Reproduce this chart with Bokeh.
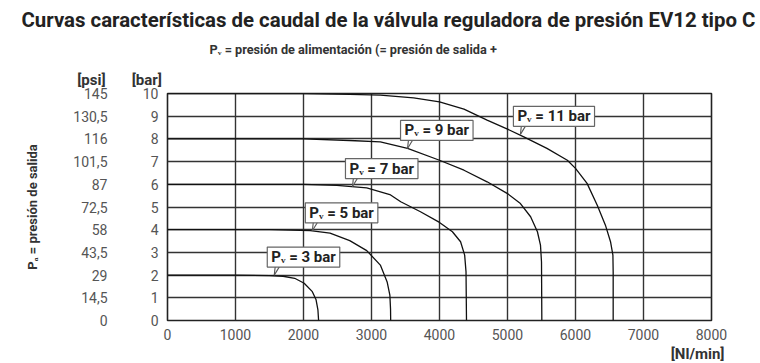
from bokeh.plotting import figure
from bokeh.models import Label, LinearAxis, FixedTicker, Range1d, Title
from bokeh.embed import file_html
from bokeh.resources import INLINE

# ---------------- data ----------------
flow_3 = [0, 1000, 1500, 1700, 1870, 2010, 2130, 2185, 2212, 2222]
p_3 = [2.0, 2.0, 1.98, 1.95, 1.86, 1.64, 1.27, 0.91, 0.47, 0.0]

flow_5 = [0, 1500, 2100, 2390, 2680, 2930, 3130, 3230, 3270, 3280, 3282]
p_5 = [4.0, 4.0, 3.96, 3.85, 3.52, 3.08, 2.44, 1.70, 1.12, 0.5, 0.0]

flow_7 = [0, 2000, 2490, 2930, 3270, 3430, 3720, 4000, 4190, 4310, 4370, 4390, 4397]
p_7 = [6.0, 6.0, 5.95, 5.84, 5.55, 5.23, 4.79, 4.32, 3.91, 3.47, 2.88, 2.14, 0.0]

flow_9 = [0, 2000, 2680, 3130, 3530, 4000, 4360, 4700, 5000, 5190, 5340, 5440, 5485, 5500, 5505]
p_9 = [8.0, 8.0, 7.93, 7.87, 7.58, 7.06, 6.62, 6.11, 5.59, 5.15, 4.57, 3.91, 3.32, 2.58, 0.0]

flow_11 = [0, 2000, 2680, 3130, 3620, 4000, 4360, 4700, 5000, 5240, 5580, 5880, 6000,
           6170, 6320, 6440, 6515, 6550, 6554, 6554]
p_11 = [10.0, 10.0, 9.96, 9.93, 9.81, 9.63, 9.31, 8.83, 8.43, 8.09, 7.58, 7.06, 6.70,
        6.04, 5.08, 4.2, 3.47, 2.88, 2.14, 0.0]

x_ticks = [0, 1000, 2000, 3000, 4000, 5000, 6000, 7000, 8000]
bar_ticks = [0, 1, 2, 3, 4, 5, 6, 7, 8, 9, 10]
psi_labels = ["0", "14,5", "29", "43,5", "58", "72,5", "87", "101,5", "116", "130,5", "145"]

callout_texts = ["P\u1d65 = 3 bar", "P\u1d65 = 5 bar", "P\u1d65 = 7 bar", "P\u1d65 = 9 bar", "P\u1d65 = 11 bar"]
callout_flow = [1570, 2130, 2720, 3530, 5190]
callout_p = [2.0, 3.95, 5.9, 7.58, 8.2]

title_text = "Curvas características de caudal de la válvula reguladora de presión EV12 tipo C"
subtitle_text = "P\u1d65 = presión de alimentación (= presión de salida +"
ylabel_text = "P\u2090 = presión de salida"
xunit_text = "[Nl/min]"
units_text = "[psi]" + "\u00a0" * 7 + "[bar]"

# ---------------- layout ----------------
W, H = 760, 363
BL, BR, BT = 167, 49, 93
FW, FH = W - BL - BR, 227
BB = H - BT - FH
X0, X1, Y0, Y1 = 0, 8000, 0, 10
ux = (X1 - X0) / FW   # data units per pixel
uy = (Y1 - Y0) / FH

FONT = "Roboto"
TICK_COLOR = "#555555"
DARK = "#222222"

p = figure(width=W, height=H, x_range=Range1d(X0, X1), y_range=Range1d(Y0, Y1),
           output_backend="svg", toolbar_location=None,
           min_border_left=BL, min_border_right=BR, min_border_top=BT, min_border_bottom=BB,
           background_fill_color="white", border_fill_color="white")

p.outline_line_color = "#222222"
p.outline_line_width = 1.6

p.xgrid.ticker = FixedTicker(ticks=x_ticks)
p.ygrid.ticker = FixedTicker(ticks=bar_ticks)
for g in (p.xgrid[0], p.ygrid[0]):
    g.grid_line_color = "#333333"
    g.grid_line_width = 1.4
    g.grid_line_alpha = 1.0


def style_axis(ax, standoff):
    ax.major_tick_in = 0
    ax.major_tick_out = 0
    ax.minor_tick_in = 0
    ax.minor_tick_out = 0
    ax.axis_line_color = None
    ax.major_label_standoff = standoff
    ax.major_label_text_font = FONT
    ax.major_label_text_font_size = "14px"
    ax.major_label_text_color = TICK_COLOR


xa = p.xaxis[0]
xa.ticker = FixedTicker(ticks=x_ticks)
style_axis(xa, 8)

ya = p.yaxis[0]
ya.ticker = FixedTicker(ticks=bar_ticks)
style_axis(ya, 9)

psi_axis = LinearAxis(ticker=FixedTicker(ticks=bar_ticks),
                      major_label_overrides=dict(zip(bar_ticks, psi_labels)))
style_axis(psi_axis, 32)
psi_axis.axis_label = ylabel_text
psi_axis.axis_label_text_font = FONT
psi_axis.axis_label_text_font_size = "13px"
psi_axis.axis_label_text_font_style = "bold"
psi_axis.axis_label_text_color = "#333333"
psi_axis.axis_label_standoff = 30
p.add_layout(psi_axis, "left")

# ---------------- curves ----------------
for fl, pr in [(flow_3, p_3), (flow_5, p_5), (flow_7, p_7), (flow_9, p_9), (flow_11, p_11)]:
    p.line(fl, pr, line_color="#111111", line_width=1.3)

# ---------------- callouts ----------------
for t, fx, fy in zip(callout_texts, callout_flow, callout_p):
    p.patch([fx, fx + 1 * ux, fx + 5.5 * ux], [fy, fy + 9 * uy, fy + 9 * uy],
            fill_color="white", line_color=None)
    p.segment([fx, fx], [fy, fy], [fx + 1 * ux, fx + 5.5 * ux], [fy + 9 * uy, fy + 9 * uy],
              line_color="#555555", line_width=1.1)
    p.add_layout(Label(x=fx, y=fy, x_offset=-7, y_offset=8, text=t,
                       text_align="left", text_baseline="bottom",
                       text_font=FONT, text_font_size="15px", text_font_style="bold",
                       text_color=DARK,
                       background_fill_color="white", background_fill_alpha=1.0,
                       border_line_color="#666666", border_line_width=1.2,
                       padding=dict(left=4, right=4, top=1, bottom=1)))

# ---------------- titles / unit texts in side panels ----------------
p.title.text = ""


def make_title(text, size, left_page_x, standoff, color=DARK, valign="bottom"):
    return Title(text=text, align="left", offset=left_page_x - BL, standoff=standoff,
                 vertical_align=valign, text_font=FONT, text_font_size=size,
                 text_font_style="bold", text_color=color)


units_t = make_title(units_text, "15px", 76.7, 9, color="#333333")
sub_t = make_title(subtitle_text, "12.7px", 209, 16, color="#333333")
main_t = make_title(title_text, "20.4px", 21, 0)
p.above = [units_t, sub_t, main_t]

xunit_t = Title(text=xunit_text, align="right", offset=-13, standoff=0, vertical_align="bottom",
                text_font=FONT, text_font_size="15px", text_font_style="bold",
                text_color="#333333")
p.add_layout(xunit_t, "below")

open("out.html", "w").write(file_html(p, INLINE))
